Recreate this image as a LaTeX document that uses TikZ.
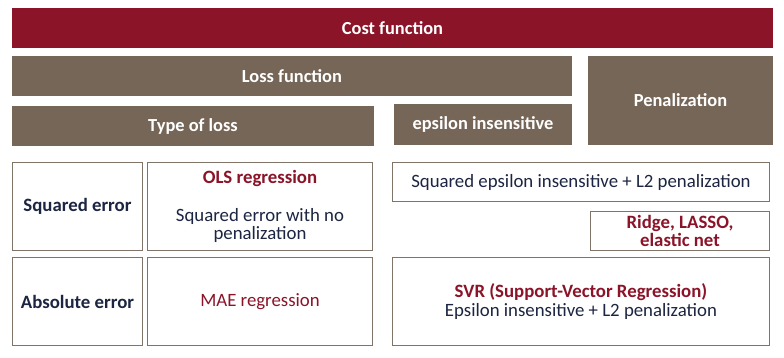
\documentclass[tikz,border=0pt]{standalone}
\usepackage{fontspec}
\setmainfont{Carlito}
\definecolor{costred}{HTML}{8B1429}
\definecolor{hdrbrown}{HTML}{766657}
\definecolor{edgebrown}{HTML}{7F7467}
\definecolor{navy}{HTML}{1C2541}
\definecolor{txtred}{HTML}{8B1429}
\begin{document}
\begin{tikzpicture}[x=1pt,y=-1pt,
  hdr/.style={fill=hdrbrown, draw=none, text=white, font=\fontsize{18.4}{18.4}\selectfont\bfseries, inner sep=0pt, align=center},
  cell/.style={draw=edgebrown, line width=1.5pt, fill=white, text=navy, font=\fontsize{18.8}{18.4}\selectfont, inner sep=0pt, align=center}]
\useasboundingbox (0,0) rectangle (784,358);
\node[hdr, fill=costred, minimum width=761pt, minimum height=40pt] (cost) at (392.5,28) {Cost function};
\node[hdr, minimum width=560pt, minimum height=40pt] (loss) at (292,76) {Loss function};
\node[hdr, minimum width=185pt, minimum height=89pt] (pen) at (680.5,100.5) {Penalization};
\node[hdr, minimum width=362pt, minimum height=40pt] (type) at (193,126) {Type of loss};
\node[hdr, minimum width=178pt, minimum height=41pt] (eps) at (483,124.5) {epsilon insensitive};
\node[cell, minimum width=130pt, minimum height=88pt] (sq) at (77.5,206.5) {\textbf{Squared error}};
\node[cell, minimum width=225pt, minimum height=88pt] (ols) at (260,206.5) {\textcolor{txtred}{\textbf{OLS regression}}\\[20pt]Squared error with no\\penalization};
\node[cell, minimum width=130pt, minimum height=88pt] (abs) at (77.5,301.5) {\textbf{Absolute error}};
\node[cell, minimum width=225pt, minimum height=88pt, text=txtred] (mae) at (260,301.5) {MAE regression};
\node[cell, minimum width=377pt, minimum height=39pt] (sqeps) at (581,182) {Squared epsilon insensitive + L2 penalization};
\node[cell, minimum width=179pt, minimum height=39pt, text=txtred] (ridge) at (680,231) {\textbf{Ridge, LASSO,}\\\textbf{elastic net}};
\node[cell, minimum width=377pt, minimum height=88pt] (svr) at (581,301.5) {\textcolor{txtred}{\textbf{SVR (Support-Vector Regression)}}\\Epsilon insensitive + L2 penalization};
\end{tikzpicture}
\end{document}
